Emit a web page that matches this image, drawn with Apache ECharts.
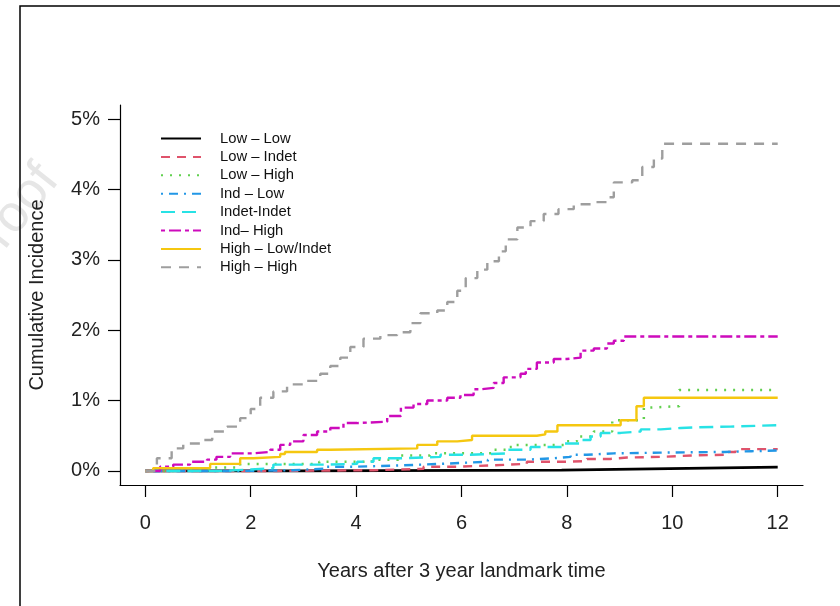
<!DOCTYPE html>
<html>
<head>
<meta charset="utf-8">
<script src="https://cdn.jsdelivr.net/npm/echarts@6/dist/echarts.min.js"></script>
<style>
html,body{margin:0;padding:0;background:#fff;}
#chart{width:840px;height:606px;}
</style>
</head>
<body>
<div id="chart"></div>
<script>
// ---- data (years after landmark, cumulative incidence in %) ----
const seriesNames = ["Low – Low","Low – Indet","Low – High","Ind – Low","Indet-Indet","Ind– High","High – Low/Indet","High – High"];
const xTicks = [0,2,4,6,8,10,12];
const yTicks = [0,1,2,3,4,5];

const lowLowT  = [0, 2.9, 7.9, 9.6, 12];
const lowLowP  = [0, 0.01, 0.03, 0.055, 0.055];

const lowIndetT = [0, 2.5, 4.33, 5.28, 5.92, 6.61, 7.24, 8.0, 8.38, 8.82, 9.14, 9.78, 10.4, 11.0, 11.2, 12];
const lowIndetP = [0, 0.01, 0.03, 0.06, 0.08, 0.10, 0.13, 0.14, 0.17, 0.19, 0.20, 0.22, 0.23, 0.27, 0.31, 0.31];

const lowHighT = [0, 0.5, 1.2, 1.8, 3.3, 4.3, 4.8, 5.4, 6.61, 6.84, 6.99, 7.94, 8.19, 8.51, 8.86, 9.46, 9.59, 10.13, 12];
const lowHighP = [0, 0.02, 0.05, 0.10, 0.13, 0.16, 0.22, 0.25, 0.30, 0.34, 0.37, 0.42, 0.49, 0.56, 0.72, 0.90, 0.92, 1.15, 1.15];

const indLowT = [0, 1.8, 2.8, 3.38, 4.02, 4.9, 5.6, 6.17, 6.5, 7.24, 7.75, 8.07, 8.38, 8.89, 9.78, 11.0, 11.5, 12];
const indLowP = [0, 0.01, 0.03, 0.06, 0.08, 0.10, 0.12, 0.13, 0.16, 0.18, 0.20, 0.23, 0.25, 0.26, 0.27, 0.28, 0.29, 0.29];

const indetIndetT = [0, 1.4, 2.0, 2.43, 3.38, 4.02, 4.33, 4.85, 5.6, 6.17, 6.87, 7.31, 7.94, 8.26, 8.45, 8.64, 9.02, 9.4, 9.78, 10.16, 10.47, 11.1, 12];
const indetIndetP = [0, 0.02, 0.04, 0.09, 0.10, 0.13, 0.18, 0.20, 0.23, 0.25, 0.30, 0.34, 0.39, 0.44, 0.49, 0.54, 0.56, 0.59, 0.61, 0.62, 0.63, 0.65, 0.65];

const indHighT = [0, 0.28, 0.53, 0.85, 1.17, 1.35, 1.61, 2.05, 2.37, 2.56, 2.75, 3.0, 3.26, 3.51, 3.76, 4.02, 4.59, 4.85, 5.09, 5.35, 5.73, 5.98, 6.23, 6.36, 6.61, 6.8, 7.12, 7.22, 7.43, 7.75, 8.0, 8.26, 8.51, 8.76, 8.89, 9.08, 12];
const indHighP = [0, 0.06, 0.09, 0.13, 0.16, 0.20, 0.25, 0.27, 0.30, 0.37, 0.42, 0.51, 0.56, 0.61, 0.68, 0.70, 0.78, 0.90, 0.95, 1.00, 1.04, 1.08, 1.16, 1.18, 1.25, 1.33, 1.38, 1.45, 1.54, 1.59, 1.61, 1.71, 1.74, 1.81, 1.85, 1.91, 1.91];

const highLowT = [0, 0.15, 1.23, 1.8, 2.05, 2.56, 2.65, 3.26, 3.51, 5.16, 5.54, 5.92, 6.2, 7.43, 7.59, 7.82, 9.02, 9.32, 9.46, 12];
const highLowP = [0, 0.04, 0.10, 0.18, 0.20, 0.24, 0.27, 0.30, 0.32, 0.37, 0.42, 0.44, 0.50, 0.52, 0.56, 0.65, 0.72, 0.92, 1.04, 1.04];

const highHighT = [0, 0.22, 0.5, 0.72, 1.04, 1.27, 1.55, 1.8, 2.0, 2.18, 2.43, 2.69, 3.0, 3.32, 3.51, 3.7, 3.89, 4.14, 4.46, 4.78, 5.03, 5.22, 5.54, 5.73, 5.92, 6.08, 6.3, 6.49, 6.71, 6.84, 7.06, 7.31, 7.56, 7.84, 8.13, 8.51, 8.79, 8.89, 9.24, 9.43, 9.65, 9.81, 12];
const highHighP = [0, 0.18, 0.32, 0.39, 0.44, 0.56, 0.63, 0.75, 0.88, 1.04, 1.13, 1.23, 1.28, 1.38, 1.49, 1.61, 1.76, 1.88, 1.93, 1.97, 2.10, 2.24, 2.28, 2.40, 2.56, 2.74, 2.86, 2.98, 3.12, 3.29, 3.46, 3.55, 3.65, 3.72, 3.79, 3.82, 3.89, 4.10, 4.13, 4.32, 4.44, 4.65, 4.65];

const times  = [lowLowT, lowIndetT, lowHighT, indLowT, indetIndetT, indHighT, highLowT, highHighT];
const values = [lowLowP, lowIndetP, lowHighP, indLowP, indetIndetP, indHighP, highLowP, highHighP];

// ---- styles ----
const colors = ["#000000","#DF536B","#61D04F","#2297E6","#28E2E5","#CD0BBC","#F5C710","#9E9E9E"];
const dashes = ["solid",[9,7],[2,7],[2,6,9,6],[14,7],[4,4,12,4],"solid",[10,8]];
const widths = [2.8,2.4,2.5,2.4,2.4,2.4,2.4,2.4];
const FONT = "Liberation Sans, Arial, sans-serif";

const chart = echarts.init(document.getElementById('chart'), null, {renderer:'canvas'});

const series = seriesNames.map((name, i) => ({
  name: name,
  type: 'line',
  step: 'end',
  symbol: 'none',
  showSymbol: false,
  silent: true,
  data: times[i].map((t, k) => [t, values[i][k]]),
  lineStyle: {color: colors[i], width: widths[i], type: dashes[i], cap: 'butt'},
  itemStyle: {color: colors[i]},
  z: 2 + i
}));

const option = {
  backgroundColor: '#ffffff',
  animation: false,
  grid: {left: 120, right: 37, top: 105, bottom: 121, containLabel: false},
  legend: {
    orient: 'vertical',
    left: 160, top: 131,
    padding: 0,
    itemWidth: 40, itemHeight: 14, itemGap: 3.4,
    selectedMode: false,
    itemStyle: {opacity: 0, borderWidth: 0},
    textStyle: {fontFamily: FONT, fontSize: 14.8, color: '#111', padding: [0,0,0,14]},
    data: seriesNames
  },
  xAxis: {
    type: 'value', min: -0.48, max: 12.48,
    name: 'Years after 3 year landmark time',
    nameLocation: 'middle', nameGap: 76,
    nameTextStyle: {fontFamily: FONT, fontSize: 20, color: '#222'},
    axisLine: {show: true, onZero: false, lineStyle: {color: '#000', width: 1.2}},
    axisTick: {show: true, inside: false, length: 12, customValues: xTicks, lineStyle: {color: '#000', width: 1.2}},
    axisLabel: {show: true, margin: 28, customValues: xTicks, fontFamily: FONT, fontSize: 20, color: '#222'},
    splitLine: {show: false}
  },
  yAxis: {
    type: 'value', min: -0.2, max: 5.2,
    name: 'Cumulative Incidence',
    nameLocation: 'middle', nameGap: 73, nameRotate: 90,
    nameTextStyle: {fontFamily: FONT, fontSize: 20, color: '#222'},
    axisLine: {show: true, onZero: false, lineStyle: {color: '#000', width: 1.2}},
    axisTick: {show: true, inside: false, length: 12, customValues: yTicks, lineStyle: {color: '#000', width: 1.2}},
    axisLabel: {show: true, margin: 20, customValues: yTicks, fontFamily: FONT, fontSize: 20, color: '#222',
      formatter: v => Math.round(v) + '%'},
    splitLine: {show: false}
  },
  graphic: [
    {type: 'text', x: -8, y: 285, rotation: 0.9, silent: true, z: -10,
      style: {text: 'Proof', font: '52px ' + FONT, fill: '#e6e6e6', textVerticalAlign: 'bottom'}},
    {type: 'rect', silent: true, z: 100,
      shape: {x: 20, y: 6, width: 900, height: 700},
      style: {fill: 'none', stroke: '#000', lineWidth: 1.5}}
  ],
  series: series
};
chart.setOption(option);
</script>
</body>
</html>
